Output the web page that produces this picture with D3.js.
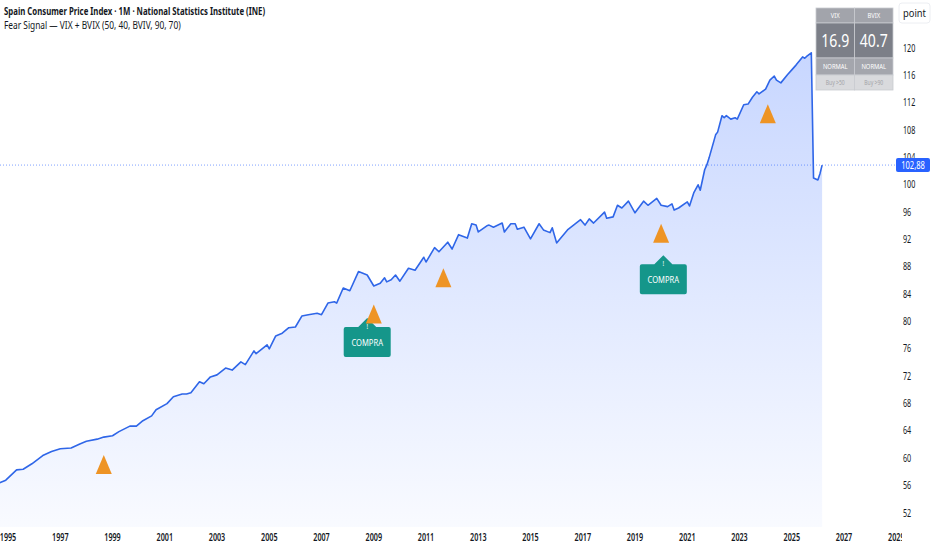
<!DOCTYPE html>
<html><head><meta charset="utf-8">
<script src="https://cdn.jsdelivr.net/npm/d3@7"></script>
<style>
html,body{margin:0;padding:0;background:#fff;}
svg{display:block;font-family:"Noto Sans","Open Sans",sans-serif;}
</style></head>
<body><svg id="c" width="932" height="550"></svg>
<script>
// ---- data ----
const months = ["1994-09","1994-12","1995-05","1995-08","1995-12","1996-05","1996-09","1997-01","1997-06","1997-10",
"1998-01","1998-06","1998-09","1999-01","1999-04","1999-09","1999-12","2000-03","2000-07","2000-09",
"2001-02","2001-05","2001-09","2001-11","2002-01","2002-05","2002-07","2002-10","2003-01","2003-05",
"2003-08","2003-12","2004-02","2004-06","2004-07","2004-12","2005-01","2005-04","2005-07","2005-10",
"2006-01","2006-04","2006-07","2006-11","2007-01","2007-04","2007-07","2007-08","2007-11","2008-02",
"2008-06","2008-10","2009-01","2009-04","2009-06","2009-07","2009-09","2009-11","2010-01","2010-05",
"2010-08","2010-12","2011-01","2011-05","2011-07","2011-11","2012-01","2012-04","2012-08","2012-10",
"2012-12","2013-01","2013-05","2013-06","2013-08","2013-12","2014-01","2014-04","2014-06","2014-07",
"2014-10","2015-01","2015-05","2015-07","2015-10","2015-11","2016-01","2016-06","2016-12","2017-02",
"2017-04","2017-06","2017-11","2017-12","2018-03","2018-05","2018-07","2018-10","2019-01","2019-05",
"2019-07","2019-11","2020-01","2020-04","2020-06","2020-07","2020-09","2021-01","2021-02","2021-04",
"2021-06","2021-07","2021-09","2021-10","2021-11","2022-02","2022-03","2022-05","2022-06","2022-07",
"2022-09","2022-11","2022-12","2023-03","2023-05","2023-07","2023-09","2023-10","2024-01","2024-03",
"2024-05","2024-06","2024-08","2024-11","2025-01","2025-03","2025-06","2025-07","2025-08","2025-10",
"2025-11","2026-01","2026-02","2026-03"];
const cpiValues = [56.4,56.8,58.3,58.4,59.2,60.4,61.0,61.4,61.5,62.1,
62.5,62.8,63.1,63.3,63.9,64.7,64.7,65.5,66.2,67.1,
68.0,69.0,69.4,69.4,69.6,71.2,70.9,71.9,72.2,73.2,
72.9,74.1,73.7,75.7,75.3,76.6,76.0,77.9,78.3,79.1,
79.2,80.8,81.0,81.2,81.0,82.7,82.9,82.7,84.9,84.5,
87.3,86.8,85.2,85.6,86.4,85.8,86.1,86.8,85.9,87.8,
87.5,89.4,88.7,90.8,90.2,91.6,90.6,92.7,92.2,94.3,
94.1,93.1,94.0,94.1,93.8,94.4,93.1,94.3,94.3,93.5,
93.8,92.1,94.3,93.4,93.0,93.7,91.5,93.4,94.9,94.1,
95.0,94.4,96.0,95.1,95.3,97.0,96.6,97.6,95.9,97.6,
97.0,98.0,97.0,96.8,97.2,96.3,96.6,97.5,96.9,98.8,
100.0,99.2,102.2,102.9,103.9,107.3,107.7,110.1,109.8,110.1,
109.6,109.8,109.6,111.7,111.8,112.8,113.6,113.3,114.0,115.3,
115.9,115.3,114.9,116.1,116.8,117.5,118.7,118.5,118.8,119.3,
101.0,100.7,101.7,102.88];
const lastValue = 102.88;
const lastLabel = "102,88";

const signalMonths = ["1998-09","2009-01","2011-09","2020-01","2024-02"];
const signalValues = [59.1,81.1,86.4,92.9,110.4];

const buyMonths = ["2008-10","2020-02"];
const buyValues = [80.5,89.7];       // tip of the label pointer
const buyText = "COMPRA";

const xTickLabels = ["1995","1997","1999","2001","2003","2005","2007","2009","2011","2013","2015","2017","2019","2021","2023","2025","2027","2029"];
const yTickValues = [52,56,60,64,68,72,76,80,84,88,92,96,100,104,108,112,116,120];

const tableHeaders = ["VIX","BVIX"];
const tableValues = ["16.9","40.7"];
const tableStatus = ["NORMAL","NORMAL"];
const tableThresholds = ["Buy >50","Buy >90"];

const titleText = "Spain Consumer Price Index · 1M · National Statistics Institute (INE)";
const subtitleText = "Fear Signal — VIX + BVIX (50, 40, BVIV, 90, 70)";

// ---- chart ----
const svg = d3.select("#c");
const W = 932, H = 550;
const paneRight = 896, paneBottom = 527;
const parse = d3.timeParse("%Y-%m");
const FONT = "'Noto Sans','Open Sans',sans-serif";

const x = d3.scaleTime()
  .domain([new Date(1995,0,1), new Date(2027,0,1)])
  .range([8, 844]);
const y = d3.scaleLinear().domain([52,120]).range([513,48]);

// condensed text helper
function ctext(g, px, py, str, opts){
  const o = Object.assign({anchor:"start", size:10, weight:"normal", fill:"#131722", sx:0.76}, opts||{});
  return g.append("text")
    .attr("transform", `translate(${px},${py}) scale(${o.sx},1)`)
    .attr("text-anchor", o.anchor).attr("font-size", o.size).attr("font-weight", o.weight)
    .attr("fill", o.fill).attr("font-family", FONT).text(str);
}

const defs = svg.append("defs");
defs.append("clipPath").attr("id","pane").append("rect")
  .attr("x",0).attr("y",0).attr("width",paneRight).attr("height",paneBottom);
defs.append("clipPath").attr("id","xaxisclip").append("rect")
  .attr("x",0).attr("y",paneBottom).attr("width",902).attr("height",H-paneBottom);
const grad = defs.append("linearGradient").attr("id","areaGrad")
  .attr("gradientUnits","userSpaceOnUse").attr("x1",0).attr("y1",y(120)).attr("x2",0).attr("y2",paneBottom);
grad.append("stop").attr("offset","0%").attr("stop-color","#2962ff").attr("stop-opacity",0.26);
grad.append("stop").attr("offset","100%").attr("stop-color","#2962ff").attr("stop-opacity",0.03);

const data = months.map((m,i)=>({d:parse(m), v:cpiValues[i]}));

const pane = svg.append("g").attr("clip-path","url(#pane)");

pane.append("path").datum(data)
  .attr("fill","url(#areaGrad)")
  .attr("d", d3.area().x(d=>x(d.d)).y0(paneBottom).y1(d=>y(d.v)));

// last value dotted line
pane.append("line")
  .attr("x1",0).attr("x2",paneRight).attr("y1",y(lastValue)).attr("y2",y(lastValue))
  .attr("stroke","#2962ff").attr("stroke-opacity",0.6).attr("stroke-width",1).attr("stroke-dasharray","1,2");

pane.append("path").datum(data)
  .attr("fill","none").attr("stroke","#2f66e8").attr("stroke-width",1.6).attr("stroke-linejoin","round")
  .attr("d", d3.line().x(d=>x(d.d)).y(d=>y(d.v)));

// buy labels
const bw = 47, bh = 30, nw = 18, nh = 9;
buyMonths.forEach((m,i)=>{
  const cx = x(parse(m)), ty = y(buyValues[i]);
  const top = ty + nh;
  const g = pane.append("g");
  g.append("path")
   .attr("d", `M${cx-bw/2},${top+2} Q${cx-bw/2},${top} ${cx-bw/2+2},${top} L${cx-nw/2},${top} L${cx},${ty} L${cx+nw/2},${top} L${cx+bw/2-2},${top} Q${cx+bw/2},${top} ${cx+bw/2},${top+2} L${cx+bw/2},${top+bh-2} Q${cx+bw/2},${top+bh} ${cx+bw/2-2},${top+bh} L${cx-bw/2+2},${top+bh} Q${cx-bw/2},${top+bh} ${cx-bw/2},${top+bh-2} Z`)
   .attr("fill","#15968a");
  ctext(g, cx, top+2, "!", {anchor:"middle", size:8, fill:"#fff"});
  ctext(g, cx, top+bh/2+3.5, buyText, {anchor:"middle", size:9.5, fill:"#fff", sx:0.8});
});

// signal triangles
const tw = 16, th = 19;
signalMonths.forEach((m,i)=>{
  const cx = x(parse(m)), cy = y(signalValues[i]);
  pane.append("path")
    .attr("d", `M${cx},${cy-th/2} L${cx+tw/2},${cy+th/2} L${cx-tw/2},${cy+th/2} Z`)
    .attr("fill","#ee9425");
});

// x axis labels
const xg = svg.append("g").attr("clip-path","url(#xaxisclip)");
xTickLabels.forEach(t=>{
  ctext(xg, x(new Date(+t,0,1)), 541, t, {anchor:"middle", size:10, weight:"600", sx:0.72});
});

// y axis labels
const yg = svg.append("g");
yTickValues.forEach(v=>{
  ctext(yg, 903, y(v)+3.5, String(v), {size:10, sx:0.72});
});

// last value label
yg.append("rect").attr("x",896).attr("y",y(lastValue)-7).attr("width",34).attr("height",14)
  .attr("rx",2).attr("fill","#2962ff");
ctext(yg, 913, y(lastValue)+3.5, lastLabel, {anchor:"middle", size:10, fill:"#fff", sx:0.76});

// "point" label
yg.append("rect").attr("x",899).attr("y",3).attr("width",31).attr("height",20).attr("rx",3)
  .attr("fill","#fff").attr("stroke","#eceef2");
ctext(yg, 914.5, 16.5, "point", {anchor:"middle", size:11, sx:0.85});

// title
ctext(svg, 4, 15, titleText, {size:11, weight:"bold", sx:0.71});
ctext(svg, 4, 29, subtitleText, {size:11, sx:0.76});

// table
const tx = 816, colW = 38.5;
const rows = [
  {vals: tableHeaders, h: 15, bg:"#a2a4ab", fg:"#fff", fs:7.5},
  {vals: tableValues, h: 35, bg:"#7c7f88", fg:"#fff", fs:18},
  {vals: tableStatus, h: 17, bg:"#a4a6ad", fg:"#fff", fs:7.5},
  {vals: tableThresholds, h: 15, bg:"#d9dadd", fg:"#a3a4a8", fs:6.5}
];
let ty0 = 8;
const tg = svg.append("g");
rows.forEach(r=>{
  r.vals.forEach((v,j)=>{
    tg.append("rect").attr("x",tx+j*colW).attr("y",ty0).attr("width",colW).attr("height",r.h)
      .attr("fill",r.bg).attr("stroke","#c9cbd0").attr("stroke-width",0.8);
    ctext(tg, tx+j*colW+colW/2, ty0+r.h/2+r.fs*0.36, v, {anchor:"middle", size:r.fs, fill:r.fg, sx:0.78});
  });
  ty0 += r.h;
});
</script>
</body></html>
